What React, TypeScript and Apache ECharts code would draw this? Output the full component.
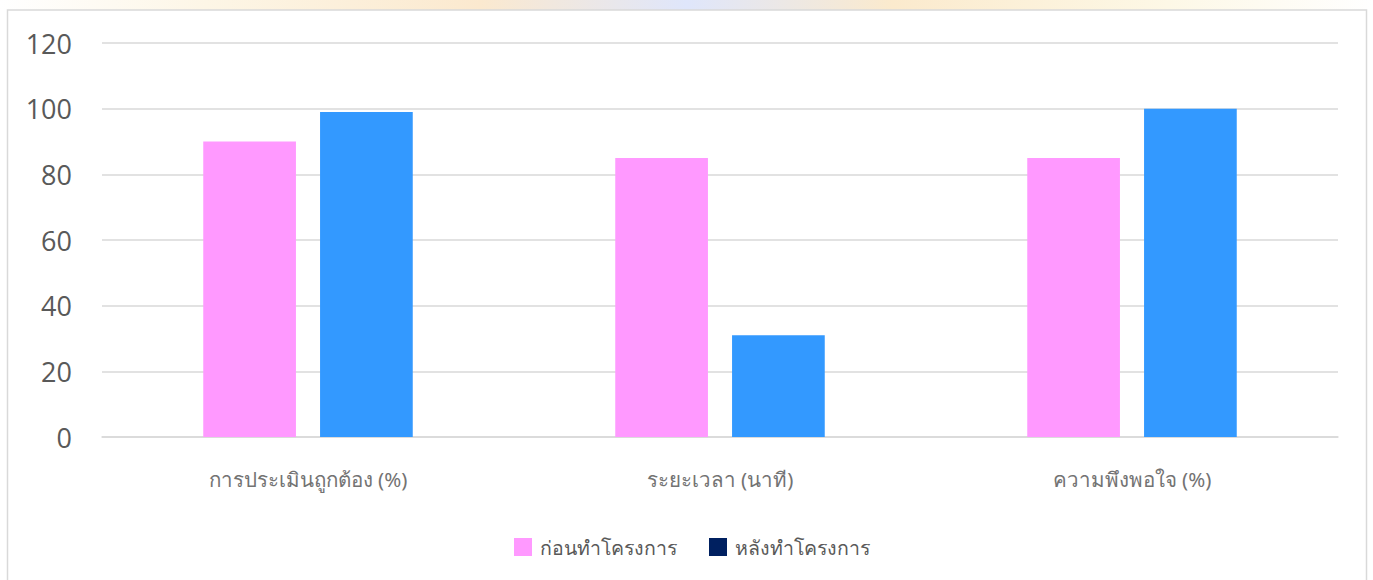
import React, { useEffect, useRef } from "react";
import * as echarts from "echarts";

const categories = ["การประเมินถูกต้อง (%)", "ระยะเวลา (นาที)", "ความพึงพอใจ (%)"];
const seriesNames = ["ก่อนทำโครงการ", "หลังทำโครงการ"];
const beforeValues = [90, 85, 85];
const afterValues = [99, 31, 100];
const yTicks = [0, 20, 40, 60, 80, 100, 120];

export default function App() {
  const ref = useRef<HTMLDivElement>(null);
  useEffect(() => {
    if (!ref.current) return;
    const chart = echarts.init(ref.current, null, { renderer: "svg" });
    chart.setOption({
      animation: false,
      backgroundColor: "#ffffff",
      graphic: [
        {
          type: "rect",
          shape: { x: 0, y: 0, width: 1373, height: 10 },
          style: {
            fill: new echarts.graphic.LinearGradient(0, 0, 1, 0, [
              { offset: 0, color: "#ffffff" },
              { offset: 0.15, color: "#fdf6e6" },
              { offset: 0.35, color: "#fbe9cf" },
              { offset: 0.5, color: "#dfe6fb" },
              { offset: 0.65, color: "#fbeacd" },
              { offset: 0.85, color: "#fdf8e6" },
              { offset: 1, color: "#ffffff" },
            ]),
          },
          silent: true,
        },
        {
          type: "rect",
          shape: { x: 7.5, y: 10, width: 1359, height: 600 },
          style: { fill: "transparent", stroke: "#d9d9d9", lineWidth: 1.5 },
          silent: true,
        },
      ],
      grid: { left: 102, right: 35, top: 43, bottom: 143, containLabel: false },
      legend: {
        left: 514,
        top: 537,
        padding: 0,
        itemWidth: 18,
        itemHeight: 18,
        itemGap: 32,
        icon: "rect",
        textStyle: {
          fontSize: 19.5,
          color: "#595959",
          fontFamily: "Noto Sans, sans-serif",
          padding: [0, 0, 0, 3],
        },
        data: [
          { name: seriesNames[0], itemStyle: { color: "#ff99ff" } },
          { name: seriesNames[1], itemStyle: { color: "#002060" } },
        ],
      },
      xAxis: {
        type: "category",
        data: categories,
        axisLine: { show: true, lineStyle: { color: "#d9d9d9", width: 1.5 } },
        axisTick: { show: false },
        axisLabel: { color: "#737373", fontSize: 20.5, margin: 31, fontFamily: "Noto Sans, sans-serif" },
      },
      yAxis: {
        type: "value",
        min: 0,
        max: 120,
        interval: 20,
        axisLine: { show: false },
        axisTick: { show: false },
        splitLine: { lineStyle: { color: "#d9d9d9", width: 1.5 } },
        axisLabel: {
          color: "#595959",
          fontSize: 27,
          margin: 30,
          fontFamily: "Open Sans, sans-serif",
          formatter: (v: number) => (yTicks.includes(v) ? String(v) : ""),
        },
      },
      series: [
        {
          name: seriesNames[0],
          type: "bar",
          data: beforeValues,
          barWidth: "22.5%",
          barGap: "26%",
          itemStyle: { color: "#ff99ff" },
        },
        {
          name: seriesNames[1],
          type: "bar",
          data: afterValues,
          barWidth: "22.5%",
          itemStyle: { color: "#3399ff" },
        },
      ],
    });
    return () => chart.dispose();
  }, []);
  return (
    <div
      ref={ref}
      style={{ position: "fixed", left: 0, top: 0, width: 1373, height: 580 }}
    />
  );
}
